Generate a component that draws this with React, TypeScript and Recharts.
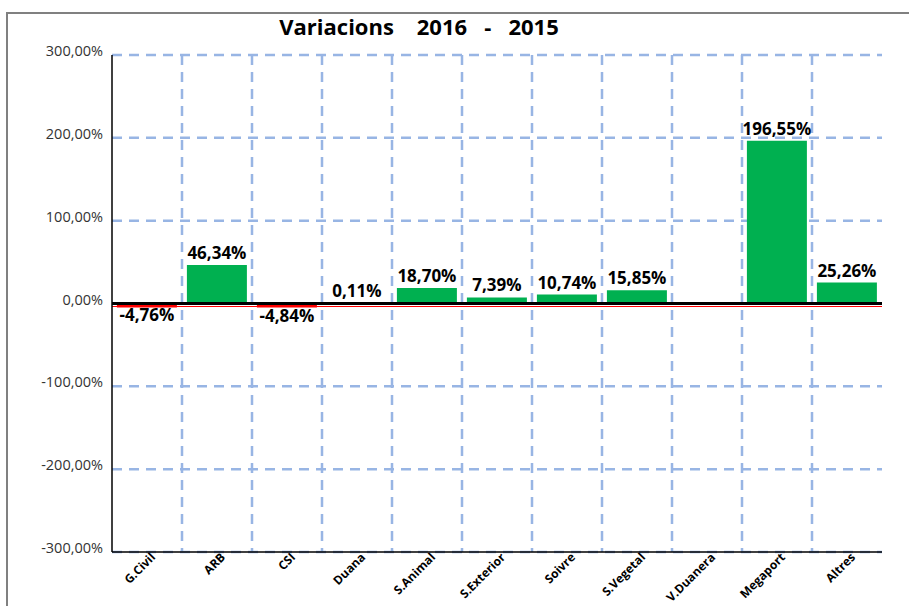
import { BarChart, Bar, XAxis, YAxis, CartesianGrid, ReferenceLine, Cell, LabelList } from 'recharts'

const categories = ['G.Civil', 'ARB', 'CSI', 'Duana', 'S.Animal', 'S.Exterior', 'Soivre', 'S.Vegetal', 'V.Duanera', 'Megaport', 'Altres']
const variacions: (number | null)[] = [-4.76, 46.34, -4.84, 0.11, 18.7, 7.39, 10.74, 15.85, null, 196.55, 25.26]
const yTicks = [-300, -200, -100, 0, 100, 200, 300]

const data = categories.map((name, i) => ({ name, value: variacions[i] }))

const FONT = '"Open Sans", sans-serif'
const GRID = '#98b5e4'

function pct(v: number): string {
  return `${v.toFixed(2).replace('.', ',')}%`
}

function renderLabel(props: any) {
  const { x, y, width, height, value } = props
  if (value === null || value === undefined) return null
  const v = Number(value)
  const top = Math.min(y, y + height)
  const bottom = Math.max(y, y + height)
  const ty = v < 0 ? bottom + 14 : top - 6
  return (
    <text x={x + width / 2} y={ty} textAnchor="middle" fontFamily={FONT} fontWeight={700} fontSize={17} fill="#000">
      {pct(v)}
    </text>
  )
}

export default function App() {
  return (
    <div style={{ position: 'absolute', left: 0, top: 0, width: 909, height: 606, overflow: 'hidden', background: '#fff' }}>
      <div
        style={{
          position: 'absolute',
          left: 6,
          top: 12,
          width: 1000,
          height: 700,
          border: '2px solid #808080',
        }}
      />
      <div
        style={{
          position: 'absolute',
          left: 219,
          top: 11,
          width: 400,
          textAlign: 'center',
          fontFamily: FONT,
          fontWeight: 700,
          fontSize: 22,
          lineHeight: '30px',
          whiteSpace: 'pre',
          color: '#000',
        }}
      >
        {'Variacions    2016   -   2015'}
      </div>
      <div style={{ position: 'absolute', left: 0, top: 0 }}>
        <BarChart
          width={909}
          height={606}
          data={data}
          margin={{ top: 55, right: 27, bottom: 0, left: 0 }}
          barCategoryGap="7%"
        >
          <CartesianGrid
            stroke={GRID}
            strokeWidth={2.5}
            strokeDasharray="10 7"
            verticalCoordinatesGenerator={({ offset }: any) =>
              categories.slice(1).map((_, i) => offset.left + ((i + 1) * offset.width) / categories.length)
            }
          />
          <XAxis
            dataKey="name"
            interval={0}
            tickLine={false}
            tickSize={0}
            tickMargin={1}
            axisLine={{ stroke: '#000', strokeWidth: 1.5 }}
            height={54}
            tick={{ angle: -45, textAnchor: 'end', fontFamily: FONT, fontWeight: 700, fontSize: 12, fill: '#000', dx: 3, dy: -1 }}
          />
          <YAxis
            width={112}
            domain={[-300, 300]}
            ticks={yTicks}
            interval={0}
            tickLine={false}
            tickSize={4}
            tickMargin={5}
            tickFormatter={pct}
            axisLine={{ stroke: '#000', strokeWidth: 1.5 }}
            tick={{ fontFamily: FONT, fontSize: 14.5, fill: '#333', dy: -4 }}
          />
          <Bar dataKey="value" isAnimationActive={false}>
            {data.map((d, i) => (
              <Cell key={i} fill={d.value !== null && d.value < 0 ? '#ff0000' : '#00b050'} />
            ))}
            <LabelList dataKey="value" content={renderLabel} />
          </Bar>
          <ReferenceLine
            y={0}
            shape={(p: any) => (
              <line x1={p.x1} y1={p.y1 + 3} x2={p.x2} y2={p.y2 + 3} stroke="#ff0000" strokeWidth={1} />
            )}
          />
          <ReferenceLine y={0} stroke="#000" strokeWidth={3} />
        </BarChart>
      </div>
    </div>
  )
}
